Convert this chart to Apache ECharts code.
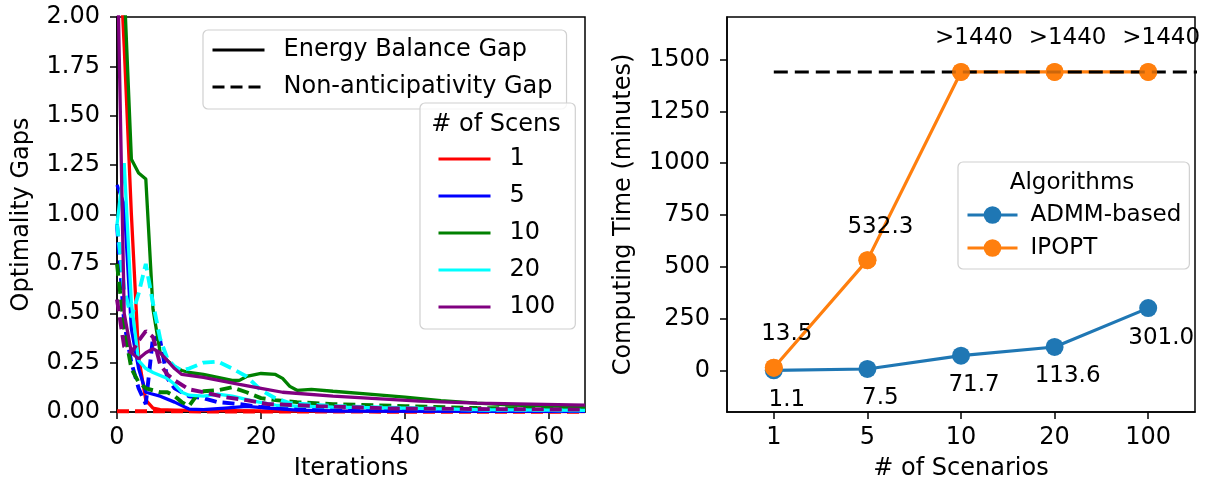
<!DOCTYPE html>
<html>
<head>
<meta charset="UTF-8">
<title>Optimality gaps and computing time</title>
<script src="https://cdn.jsdelivr.net/npm/echarts@6/dist/echarts.min.js"></script>
<style>
    html, body { margin: 0; padding: 0; background: #fff; }
    #main { width: 1205px; height: 486px; }
</style>
</head>
<body>
<div id="main"></div>
<script>
// ---- left panel: gaps vs iterations, [iteration, gap] ----
// energy balance gap (solid)
const ebg1 = [[0,2.6],[1,1.85],[2,1.0],[3,0.28],[4,0.06],[5,0.02],[6,0.012],[8,0.01],[10,0.008],[20,0.005],[30,0.004],[65,0.002]]
const ebg5 = [[0,1.15],[1,1.05],[2,0.42],[3,0.22],[4,0.1],[5,0.09],[6,0.08],[8,0.05],[10,0.015],[12,0.012],[15,0.02],[18,0.028],[21,0.02],[25,0.01],[30,0.005],[65,0.003]]
const ebg10 = [[0,3.5],[1,2.15],[2,1.28],[3,1.21],[4,1.18],[5,0.52],[6,0.3],[7,0.26],[8,0.23],[9,0.21],[10,0.2],[12,0.19],[14,0.175],[16,0.16],[17,0.16],[18,0.18],[20,0.195],[22,0.19],[23,0.17],[24,0.13],[25,0.11],[27,0.115],[30,0.105],[35,0.09],[40,0.075],[45,0.058],[50,0.045],[55,0.035],[60,0.03],[65,0.027]]
const ebg20 = [[0,0.95],[1,1.26],[2,0.55],[3,0.26],[4,0.22],[5,0.2],[7,0.17],[8,0.14],[9,0.1],[10,0.085],[12,0.08],[14,0.09],[16,0.08],[19,0.055],[22,0.035],[25,0.03],[30,0.025],[40,0.02],[50,0.012],[65,0.008]]
const ebg100 = [[0,2.4],[1,0.5],[2,0.3],[3,0.27],[4,0.3],[5,0.32],[6,0.3],[7,0.26],[8,0.22],[9,0.19],[12,0.175],[17,0.14],[20,0.12],[23,0.1],[30,0.08],[42,0.055],[50,0.045],[65,0.035]]
// non-anticipativity gap (dashed)
const nag1 = [[0,0.004],[10,0.003],[20,0.002],[65,0.001]]
const nag5 = [[0,0.95],[1,0.45],[2,0.25],[3,0.12],[4,0.04],[5,0.38],[6,0.36],[7,0.17],[8,0.12],[10,0.08],[12,0.07],[14,0.05],[17,0.04],[20,0.025],[25,0.015],[35,0.008],[65,0.005]]
const nag10 = [[0,0.75],[1,0.42],[2,0.22],[3,0.15],[4,0.12],[5,0.11],[6,0.1],[7,0.1],[8,0.08],[9,0.05],[10,0.03],[11,0.08],[12,0.105],[14,0.11],[16,0.125],[18,0.1],[20,0.07],[22,0.06],[25,0.05],[30,0.04],[40,0.03],[50,0.02],[65,0.015]]
const nag20 = [[0,0.95],[1,0.62],[2,0.48],[3,0.6],[4,0.75],[5,0.55],[6,0.37],[7,0.27],[8,0.23],[9,0.21],[10,0.22],[12,0.25],[14,0.255],[16,0.22],[18,0.18],[20,0.11],[22,0.07],[24,0.045],[30,0.03],[40,0.02],[50,0.012],[65,0.008]]
const nag100 = [[0,0.57],[1,0.33],[2,0.3],[3,0.36],[4,0.41],[5,0.38],[6,0.24],[7,0.19],[8,0.16],[10,0.115],[12,0.1],[15,0.075],[18,0.06],[21,0.04],[28,0.03],[38,0.018],[50,0.015],[65,0.012]]

const scens = ['1', '5', '10', '20', '100']
const scenColors = ['#ff0000', '#0000ff', '#008000', '#00ffff', '#800080']
const ebgData = [ebg1, ebg5, ebg10, ebg20, ebg100]
const nagData = [nag1, nag5, nag10, nag20, nag100]
const iterTicks = [0, 20, 40, 60]

// ---- right panel: computing time ----
const scenarios = ['1', '5', '10', '20', '100']
const admmTime = [1.1, 7.5, 71.7, 113.6, 301.0]
const ipoptTime = [13.5, 532.3, 1440, 1440, 1440]
const admmLabels = ['1.1', '7.5', '71.7', '113.6', '301.0']
const ipoptLabels = ['13.5', '532.3', '>1440', '>1440', '>1440']
const timeLimit = [[0, 1440], [5, 1440]]
const timeTicks = [0, 250, 500, 750, 1000, 1250, 1500]

const FONT = 'DejaVu Sans'
const FS = 24
const txt = {fontFamily: FONT, fontSize: FS, color: '#000'}
const txtR = {fontFamily: FONT, fontSize: 23, color: '#000'}
const axisLine = {show: true, onZero: false, lineStyle: {color: '#000', width: 1.5}}
const axisTick = {show: true, length: 7, lineStyle: {color: '#000', width: 1.5}}
const legendBox = {
    orient: 'vertical',
    backgroundColor: 'rgba(255,255,255,0.8)',
    borderColor: '#d0d0d0',
    borderWidth: 1.2,
    borderRadius: 5,
    itemWidth: 52,
    itemHeight: 20,
    itemGap: 13,
    selectedMode: false,
    textStyle: Object.assign({lineHeight: 24, padding: [0, 0, 0, 14]}, txt),
}
const noMarker = {color: 'rgba(0,0,0,0)', borderWidth: 0, borderColor: 'rgba(0,0,0,0)'}

let series = []
scens.forEach((s, i) => {
    series.push({
        name: s, type: 'line', xAxisIndex: 0, yAxisIndex: 0,
        data: ebgData[i], symbol: 'none', color: scenColors[i],
        lineStyle: {width: 3.3, color: scenColors[i]},
    })
    series.push({
        name: s + ' NAG', type: 'line', xAxisIndex: 0, yAxisIndex: 0,
        data: nagData[i], symbol: 'none', color: scenColors[i],
        lineStyle: {width: 3.9, color: scenColors[i], type: [12, 6]},
    })
})
// proxy series for the line style legend
series.push({name: 'Energy Balance Gap', type: 'line', xAxisIndex: 0, yAxisIndex: 0, data: [], symbol: 'none',
    color: '#000', lineStyle: {width: 3, color: '#000'}})
series.push({name: 'Non-anticipativity Gap', type: 'line', xAxisIndex: 0, yAxisIndex: 0, data: [], symbol: 'none',
    color: '#000', lineStyle: {width: 3, color: '#000', type: [12, 6]}})

series.push({
    name: 'ADMM-based', type: 'line', xAxisIndex: 1, yAxisIndex: 1, z: 2,
    data: admmTime, symbol: 'circle', symbolSize: 18, color: '#1f77b4',
    lineStyle: {width: 3.2, color: '#1f77b4'},
    label: {show: true, position: 'bottom', distance: 9, offset: [13, 0],
        formatter: p => admmLabels[p.dataIndex], ...txtR},
})
series.push({
    name: 'IPOPT', type: 'line', xAxisIndex: 1, yAxisIndex: 1, z: 3,
    data: ipoptTime, symbol: 'circle', symbolSize: 18, color: '#ff7f0e',
    lineStyle: {width: 3.2, color: '#ff7f0e'},
    label: {show: true, position: 'top', distance: 13, offset: [13, 0],
        formatter: p => ipoptLabels[p.dataIndex], ...txtR},
})
series.push({
    name: 'limit', type: 'line', xAxisIndex: 2, yAxisIndex: 1, z: 4,
    data: timeLimit, symbol: 'none', silent: true,
    lineStyle: {width: 3, color: '#000', type: [14, 7]},
})
series.push({
    name: 'IPOPT markers', type: 'scatter', xAxisIndex: 1, yAxisIndex: 1, z: 5,
    data: ipoptTime, symbol: 'circle', symbolSize: 18, color: '#ff7f0e', silent: true,
})

const option = {
    animation: false,
    backgroundColor: '#fff',
    textStyle: {fontFamily: FONT},
    grid: [
        {left: 117, top: 17, width: 468, height: 396, show: true, borderColor: '#000', borderWidth: 1.5, backgroundColor: 'transparent'},
        {left: 727, top: 17, width: 468, height: 397, show: true, borderColor: '#000', borderWidth: 1.5, backgroundColor: 'transparent'},
    ],
    xAxis: [
        {gridIndex: 0, type: 'value', min: 0, max: 65,
            axisLine, axisTick: {...axisTick, customValues: iterTicks},
            axisLabel: {...txt, margin: 14, customValues: iterTicks},
            splitLine: {show: false},
            name: 'Iterations', nameLocation: 'middle', nameGap: 45, nameTextStyle: txt},
        {gridIndex: 1, type: 'category', data: scenarios,
            axisLine, axisTick: {...axisTick, alignWithLabel: true},
            axisLabel: {...txt, margin: 14},
            name: '# of Scenarios', nameLocation: 'middle', nameGap: 45, nameTextStyle: txt},
        {gridIndex: 1, type: 'value', min: -0.5, max: 4.5, show: false},
    ],
    yAxis: [
        {gridIndex: 0, type: 'value', min: 0, max: 2, interval: 0.25,
            axisLine, axisTick,
            axisLabel: {...txt, margin: 17, formatter: v => v.toFixed(2)},
            splitLine: {show: false},
            name: 'Optimality Gaps', nameLocation: 'middle', nameGap: 83, nameTextStyle: txt},
        {gridIndex: 1, type: 'value', min: -200, max: 1705,
            axisLine, axisTick: {...axisTick, customValues: timeTicks},
            axisLabel: {...txt, margin: 17, customValues: timeTicks, formatter: v => String(v)},
            splitLine: {show: false},
            name: 'Computing Time (minutes)', nameLocation: 'middle', nameGap: 91, nameTextStyle: txt},
    ],
    legend: [
        {...legendBox, left: 203, top: 30, padding: [8, 14, 10, 8],
            data: ['Energy Balance Gap', 'Non-anticipativity Gap'],
            itemStyle: noMarker, lineStyle: {width: 3}},
        {...legendBox, left: 420, top: 103, padding: [44, 20, 10, 17],
            data: scens,
            itemStyle: noMarker, lineStyle: {width: 3}},
        {...legendBox, left: 958, top: 162, padding: [41, 8, 9, 8], itemWidth: 50, itemHeight: 22, itemGap: 9,
            textStyle: Object.assign({lineHeight: 24, padding: [0, 0, 0, 8]}, txtR),
            data: ['ADMM-based', 'IPOPT'],
            lineStyle: {width: 3}},
    ],
    graphic: [
        {type: 'text', z: 100, style: {text: '# of Scens', x: 496, y: 125, align: 'center', verticalAlign: 'middle',
            font: FS + 'px "' + FONT + '"', fill: '#000'}},
        {type: 'text', z: 100, style: {text: 'Algorithms', x: 1072, y: 183, align: 'center', verticalAlign: 'middle',
            font: '23px "' + FONT + '"', fill: '#000'}},
    ],
    series: series,
}

const chart = echarts.init(document.getElementById('main'), null, {renderer: 'canvas'})
chart.setOption(option)
</script>
</body>
</html>
